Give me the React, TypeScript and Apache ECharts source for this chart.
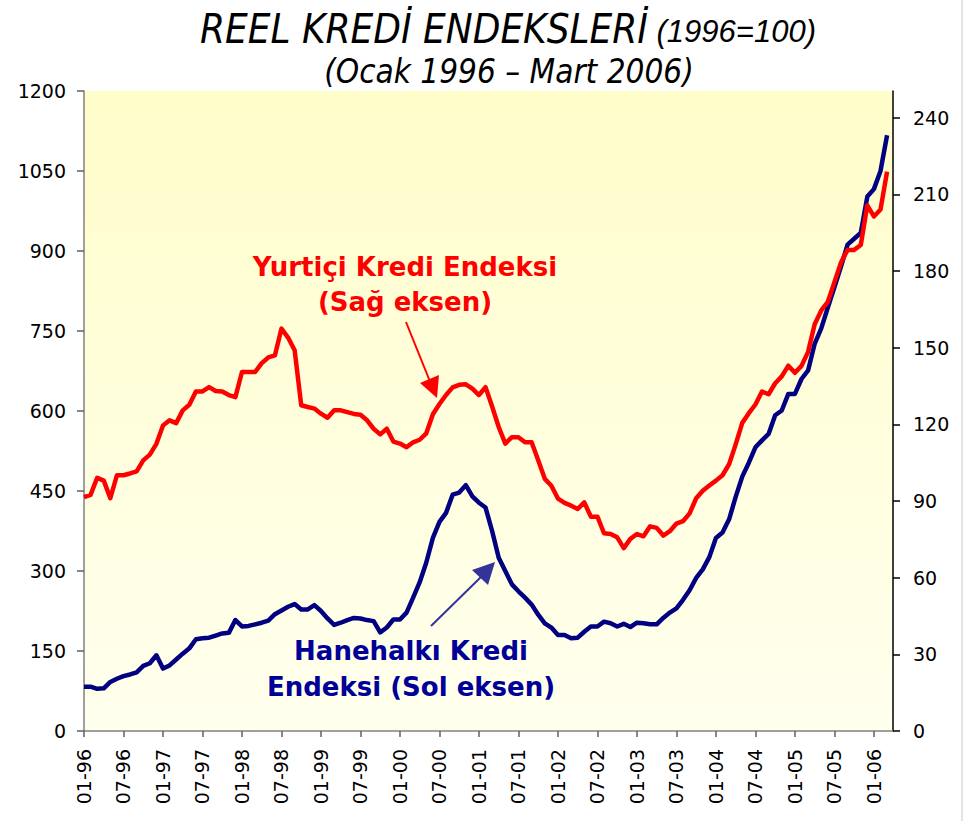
import React, { useEffect, useRef } from "react";
import * as echarts from "echarts";

// Month index 0 = 01-96 ... 122 = 03-06
const xTickLabels = [
  "01-96", "07-96", "01-97", "07-97", "01-98", "07-98", "01-99", "07-99", "01-00", "07-00",
  "01-01", "07-01", "01-02", "07-02", "01-03", "07-03", "01-04", "07-04", "01-05", "07-05", "01-06",
];
const xTickPositions = xTickLabels.map((_, k) => k * 6);

const leftTicks = [0, 150, 300, 450, 600, 750, 900, 1050, 1200];
const rightTicks = [0, 30, 60, 90, 120, 150, 180, 210, 240];

// Hanehalkı Kredi Endeksi (left axis)
const household = [
  83, 83, 79, 80, 92, 98, 103, 106, 110, 122, 127, 142, 117, 123, 134, 145, 155, 172, 174, 175,
  179, 183, 184, 208, 196, 197, 200, 203, 207, 219, 226, 233, 238, 228, 228, 236, 225, 211, 199, 203,
  208, 212, 211, 208, 206, 185, 194, 209, 209, 222, 250, 279, 316, 362, 392, 409, 443, 447, 461, 440,
  428, 419, 375, 325, 300, 275, 262, 250, 237, 218, 202, 194, 180, 180, 174, 175, 186, 196, 196, 205,
  202, 196, 201, 195, 203, 202, 200, 200, 212, 222, 230, 246, 264, 287, 303, 326, 362, 372, 397, 439,
  477, 503, 532, 545, 557, 592, 601, 632, 632, 660, 676, 726, 755, 794, 832, 871, 912, 923, 934, 1002,
  1016, 1050, 1117,
];

// Yurtiçi Kredi Endeksi (right axis)
const domestic = [
  91.5, 92.4, 99.1, 98, 91.1, 100.1, 100.1, 100.8, 101.6, 105.9, 108.2, 112.4, 119.6, 121.6, 120.5, 125.5, 127.7, 132.9, 132.9, 134.6,
  133.1, 132.9, 131.5, 130.7, 140.5, 140.5, 140.5, 144, 146.2, 147, 157.5, 154, 149, 127.5, 126.8, 126.2, 124.2, 122.6, 125.5, 125.5,
  124.8, 124.1, 123.8, 121.6, 118.3, 116.1, 118.3, 113.3, 112.5, 111.1, 113, 114, 116.5, 124, 128, 131.5, 134.5, 135.5, 135.7, 134,
  131.5, 134.6, 127, 119, 112.5, 115, 115, 113, 113, 106, 98.7, 96, 91, 89.3, 88.2, 86.9, 89.5, 83.9, 83.9, 77.4,
  77.1, 75.8, 71.6, 75.2, 77.1, 76.2, 80.1, 79.5, 76.5, 78.2, 81.2, 82.1, 85.2, 91.1, 94, 96.1, 98, 100.1, 104.4, 112.2,
  120.6, 124.4, 127.8, 132.9, 131.8, 136.1, 138.8, 143, 140.2, 142.9, 148.4, 159.2, 164.6, 168, 175.7, 183.4, 188.3, 188.3, 190.2, 205.7,
  201.4, 204.1, 218.9,
];

const FONT = "'DejaVu Sans', Verdana, sans-serif";
const NARROW = "'DejaVu Sans Condensed', 'Liberation Sans', sans-serif";
const TITLE_FONT = "'Liberation Sans', Arial, sans-serif";

export default function App() {
  const ref = useRef<HTMLDivElement>(null);

  useEffect(() => {
    document.body.style.margin = "0";
    if (!ref.current) return;
    const chart = echarts.init(ref.current, null, { renderer: "svg" });

    const labelStyle = { color: "#000", fontFamily: FONT, fontSize: 19 };

    const option: any = {
      animation: false,
      backgroundColor: "#ffffff",
      grid: {
        left: 84,
        right: 72,
        top: 91,
        bottom: 90,
        show: true,
        borderWidth: 0,
        backgroundColor: {
          type: "linear",
          x: 0,
          y: 0,
          x2: 0,
          y2: 1,
          colorStops: [
            { offset: 0, color: "#FFFDC9" },
            { offset: 1, color: "#FFFFEE" },
          ],
        },
      },
      xAxis: {
        type: "value",
        min: 0,
        max: 122.9,
        splitLine: { show: false },
        axisLine: { show: true, onZero: false, lineStyle: { color: "#808080", width: 1.5 } },
        axisTick: { show: true, length: 6, customValues: xTickPositions, lineStyle: { color: "#606060", width: 1.5 } },
        axisLabel: {
          ...labelStyle,
          customValues: xTickPositions,
          rotate: 90,
          margin: 18,
          formatter: (v: number) => xTickLabels[Math.round(v / 6)] ?? "",
        },
      },
      yAxis: [
        {
          type: "value",
          min: 0,
          max: 1200,
          interval: 150,
          position: "left",
          splitLine: { show: false },
          axisLine: { show: true, lineStyle: { color: "#808080", width: 1.5 } },
          axisTick: { show: true, length: 7, customValues: leftTicks, lineStyle: { color: "#606060", width: 1.5 } },
          axisLabel: { ...labelStyle, customValues: leftTicks, margin: 18, formatter: (v: number) => String(v) },
        },
        {
          type: "value",
          min: 0,
          max: 250.5,
          position: "right",
          splitLine: { show: false },
          axisLine: { show: true, lineStyle: { color: "#000", width: 1.5 } },
          axisTick: { show: true, length: 7, customValues: rightTicks, lineStyle: { color: "#000", width: 1.5 } },
          axisLabel: { ...labelStyle, customValues: rightTicks, margin: 20, formatter: (v: number) => String(v) },
        },
      ],
      series: [
        {
          name: "Hanehalkı Kredi Endeksi",
          type: "line",
          yAxisIndex: 0,
          showSymbol: false,
          lineStyle: { color: "#000080", width: 4.5, join: "round" },
          data: household.map((v, i) => [i, v]),
        },
        {
          name: "Yurtiçi Kredi Endeksi",
          type: "line",
          yAxisIndex: 1,
          showSymbol: false,
          lineStyle: { color: "#FF0000", width: 4.5, join: "round" },
          data: domestic.map((v, i) => [i, v]),
        },
      ],
      graphic: [
        {
          type: "text",
          x: 508,
          y: 49,
          style: {
            text: "{a|REEL KREDİ ENDEKSLERİ}{b| (1996=100)}",
            align: "center",
            verticalAlign: "bottom",
            fill: "#000",
            rich: {
              a: { fontFamily: NARROW, fontStyle: "italic", fontSize: 40, fill: "#000", verticalAlign: "bottom", lineHeight: 44 },
              b: { fontFamily: TITLE_FONT, fontStyle: "italic", fontSize: 31, fill: "#000", verticalAlign: "bottom", lineHeight: 40, padding: [0, 0, 2, 0] },
            },
          },
        },
        {
          type: "text",
          x: 509,
          y: 71,
          style: {
            text: "(Ocak 1996 – Mart 2006)",
            align: "center",
            verticalAlign: "middle",
            fill: "#000",
            fontFamily: NARROW,
            fontStyle: "italic",
            fontSize: 33,
          },
        },
        {
          type: "text",
          x: 405,
          y: 267,
          style: {
            text: "Yurtiçi Kredi Endeksi",
            align: "center",
            verticalAlign: "middle",
            fill: "#FF0000",
            fontFamily: FONT,
            fontWeight: "bold",
            fontSize: 26,
          },
        },
        {
          type: "text",
          x: 405,
          y: 302,
          style: {
            text: "(Sağ eksen)",
            align: "center",
            verticalAlign: "middle",
            fill: "#FF0000",
            fontFamily: FONT,
            fontWeight: "bold",
            fontSize: 26,
          },
        },
        {
          type: "text",
          x: 411,
          y: 651,
          style: {
            text: "Hanehalkı Kredi",
            align: "center",
            verticalAlign: "middle",
            fill: "#000099",
            fontFamily: FONT,
            fontWeight: "bold",
            fontSize: 26,
          },
        },
        {
          type: "text",
          x: 411,
          y: 687,
          style: {
            text: "Endeksi (Sol eksen)",
            align: "center",
            verticalAlign: "middle",
            fill: "#000099",
            fontFamily: FONT,
            fontWeight: "bold",
            fontSize: 26,
          },
        },
        {
          type: "line",
          shape: { x1: 406, y1: 322, x2: 431, y2: 384 },
          style: { stroke: "#FF0000", lineWidth: 2 },
        },
        {
          type: "polygon",
          shape: { points: [[437, 398], [420, 383], [439, 375]] },
          style: { fill: "#FF0000" },
        },
        {
          type: "line",
          shape: { x1: 431, y1: 626, x2: 482, y2: 576 },
          style: { stroke: "#333399", lineWidth: 2 },
        },
        {
          type: "polygon",
          shape: { points: [[495, 562], [472, 570], [488, 585]] },
          style: { fill: "#333399" },
        },
        {
          type: "line",
          shape: { x1: 962, y1: 0, x2: 962, y2: 821 },
          style: { stroke: "#c8c8c8", lineWidth: 1 },
        },
      ],
    };

    chart.setOption(option);
    return () => chart.dispose();
  }, []);

  return <div ref={ref} style={{ width: 965, height: 821 }} />;
}
